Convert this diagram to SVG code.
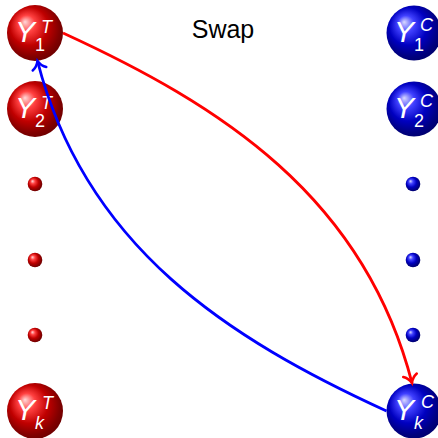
<svg xmlns="http://www.w3.org/2000/svg" width="438" height="438" viewBox="0 0 438 438">
<style>
.lbl{fill:#fff;font-family:"Liberation Sans","DejaVu Sans",sans-serif}
.big{font-size:30px;font-style:italic}
.sm{font-size:18px}
.it{font-style:italic}
.title{font-family:"Liberation Sans","DejaVu Sans",sans-serif;font-size:25px;fill:#000}
.edge{fill:none;stroke-width:2.8}
</style>
<defs>
<radialGradient id="ballR" cx="0.5" cy="0.5" r="0.85" fx="0.32" fy="0.3">
<stop offset="0" stop-color="#ffd9d9"/>
<stop offset="0.18" stop-color="#ff4040"/>
<stop offset="0.4" stop-color="#c00000"/>
<stop offset="0.6" stop-color="#800000"/>
<stop offset="1" stop-color="#300000"/>
</radialGradient>
<radialGradient id="ballB" cx="0.5" cy="0.5" r="0.85" fx="0.32" fy="0.3">
<stop offset="0" stop-color="#d9d9ff"/>
<stop offset="0.18" stop-color="#4040ff"/>
<stop offset="0.4" stop-color="#0000c0"/>
<stop offset="0.6" stop-color="#000080"/>
<stop offset="1" stop-color="#000030"/>
</radialGradient>
<marker id="arrR" markerUnits="userSpaceOnUse" viewBox="-10 -10 12 20" refX="0" refY="0" markerWidth="12" markerHeight="20" orient="auto" overflow="visible">
<path d="M-8,-7 C-6,-3 -2,-0.8 0,0 C-2,0.8 -6,3 -8,7" fill="none" stroke="#ff0000" stroke-width="2.5" stroke-linecap="round"/>
</marker>
<marker id="arrB" markerUnits="userSpaceOnUse" viewBox="-10 -10 12 20" refX="0" refY="0" markerWidth="12" markerHeight="20" orient="auto" overflow="visible">
<path d="M-8,-7 C-6,-3 -2,-0.8 0,0 C-2,0.8 -6,3 -8,7" fill="none" stroke="#0000ff" stroke-width="2.5" stroke-linecap="round"/>
</marker>
</defs>
<rect width="438" height="438" fill="#fff"/>
<text class="title" x="223" y="38" text-anchor="middle">Swap</text>

<g id="Y1T" transform="translate(35,33)">
<circle r="28" fill="url(#ballR)"/>
<text class="lbl big" x="-20" y="9">Y</text>
<text class="lbl sm" x="0" y="18">1</text>
<text class="lbl sm it" x="6" y="0">T</text>
</g>
<g id="Y2T" transform="translate(35,109)">
<circle r="28" fill="url(#ballR)"/>
<text class="lbl big" x="-20" y="9">Y</text>
<text class="lbl sm" x="0" y="18">2</text>
<text class="lbl sm it" x="6" y="0">T</text>
</g>
<g id="dotT1"><circle cx="35" cy="184" r="7.3" fill="url(#ballR)"/></g>
<g id="dotT2"><circle cx="35" cy="260" r="7.3" fill="url(#ballR)"/></g>
<g id="dotT3"><circle cx="35" cy="335" r="7.3" fill="url(#ballR)"/></g>
<g id="YkT" transform="translate(35,411)">
<circle r="28" fill="url(#ballR)"/>
<text class="lbl big" x="-20" y="9">Y</text>
<text class="lbl sm it" x="0" y="18">k</text>
<text class="lbl sm it" x="7" y="-2">T</text>
</g>

<g id="Y1C" transform="translate(414,33)">
<circle r="27.5" fill="url(#ballB)"/>
<text class="lbl big" x="-20" y="9">Y</text>
<text class="lbl sm" x="0" y="18">1</text>
<text class="lbl sm it" x="6" y="-2">C</text>
</g>
<g id="Y2C" transform="translate(414,109)">
<circle r="27.5" fill="url(#ballB)"/>
<text class="lbl big" x="-20" y="9">Y</text>
<text class="lbl sm" x="0" y="18">2</text>
<text class="lbl sm it" x="6" y="-2">C</text>
</g>
<g id="dotC1"><circle cx="413" cy="184" r="7.3" fill="url(#ballB)"/></g>
<g id="dotC2"><circle cx="413" cy="260" r="7.3" fill="url(#ballB)"/></g>
<g id="dotC3"><circle cx="413" cy="335" r="7.3" fill="url(#ballB)"/></g>
<g id="YkC" transform="translate(414,411)">
<circle r="27.5" fill="url(#ballB)"/>
<text class="lbl big" x="-20" y="9">Y</text>
<text class="lbl sm it" x="0" y="18">k</text>
<text class="lbl sm it" x="7" y="-3">C</text>
</g>

<g id="connectors">
<path class="edge" stroke="#ff0000" d="M63,33 C220,105 364,196 412,383" marker-end="url(#arrR)"/>
<path class="edge" stroke="#0000ff" d="M386.5,411 C229.5,339 85.5,248 37.5,61" marker-end="url(#arrB)"/>
</g>
</svg>
